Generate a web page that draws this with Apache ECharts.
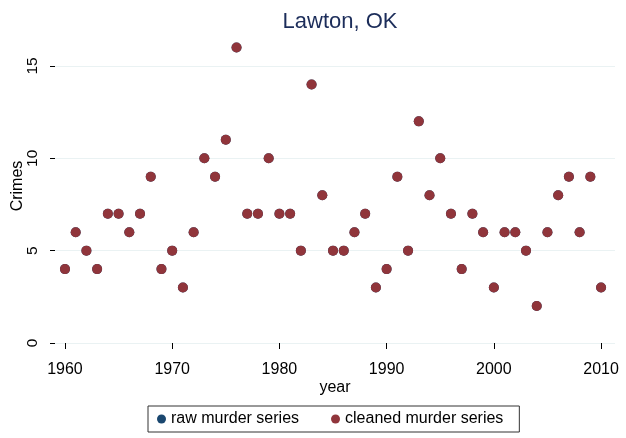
<!DOCTYPE html>
<html>
<head>
<meta charset="utf-8">
<script src="https://cdn.jsdelivr.net/npm/echarts@6/dist/echarts.min.js"></script>
<style>html,body{margin:0;padding:0;background:#fff}#c{width:626px;height:438px}</style>
</head>
<body>
<div id="c"></div>
<script>
var years = [1960,1961,1962,1963,1964,1965,1966,1967,1968,1969,1970,1971,1972,1973,1974,1975,1976,1977,1978,1979,1980,1981,1982,1983,1984,1985,1986,1987,1988,1989,1990,1991,1992,1993,1994,1995,1996,1997,1998,1999,2000,2001,2002,2003,2004,2005,2006,2007,2008,2009,2010];
var rawMurders = [4,6,5,4,7,7,6,7,9,4,5,3,6,10,9,11,16,7,7,10,7,7,5,14,8,5,5,6,7,3,4,9,5,12,8,10,7,4,7,6,3,6,6,5,2,6,8,9,6,9,3];
var cleanedMurders = [4,6,5,4,7,7,6,7,9,4,5,3,6,10,9,11,16,7,7,10,7,7,5,14,8,5,5,6,7,3,4,9,5,12,8,10,7,4,7,6,3,6,6,5,2,6,8,9,6,9,3];
var xTicks = [1960,1970,1980,1990,2000,2010];
var yTicks = [0,5,10,15];
var titleText = 'Lawton, OK';
var seriesNames = ['raw murder series','cleaned murder series'];

function pairs(xs, ys){ return xs.map(function(x,i){ return [x, ys[i]]; }); }

var font = 'Liberation Sans, Arial, Helvetica, sans-serif';
var chart = echarts.init(document.getElementById('c'), null, {renderer:'canvas'});
chart.setOption({
  animation:false,
  backgroundColor:'#fff',
  textStyle:{fontFamily:font},
  title:{text:titleText,left:335,textAlign:'center',top:6,textStyle:{fontFamily:font,fontSize:22,fontWeight:'normal',color:'#1c2d5a'}},
  grid:{left:55,right:11,top:29,bottom:95,containLabel:false,outerBoundsMode:'none'},
  xAxis:{type:'value',min:1959.07,max:2011.3,offset:9,
    name:'year',nameLocation:'middle',nameGap:28,nameMoveOverlap:false,nameTextStyle:{fontSize:16,color:'#000',fontFamily:font},
    axisLine:{show:false},
    axisTick:{show:true,length:6,customValues:xTicks,lineStyle:{color:'#000'}},
    axisLabel:{customValues:xTicks,fontSize:16,color:'#000',margin:10,fontFamily:font,formatter:function(v){return String(v);}},
    splitLine:{show:false}},
  yAxis:{type:'value',min:0,max:17,
    name:'Crimes',nameLocation:'middle',nameGap:29,nameMoveOverlap:false,nameTextStyle:{fontSize:16,color:'#000',fontFamily:font},
    axisLine:{show:false},
    axisTick:{show:true,length:5,customValues:yTicks,lineStyle:{color:'#000'}},
    axisLabel:{customValues:yTicks,rotate:90,fontSize:15.5,color:'#000',margin:14,fontFamily:font},
    splitLine:{show:true,lineStyle:{color:'#eaf2f3',width:1}}},
  legend:{left:148,top:406,orient:'horizontal',padding:[5,16,5,9],itemGap:32,
    borderColor:'#333',borderWidth:1,borderRadius:0,
    itemWidth:9,itemHeight:9,icon:'circle',
    textStyle:{fontSize:16,color:'#000',fontFamily:font},
    data:seriesNames},
  series:[
    {name:seriesNames[0],type:'scatter',data:pairs(years,rawMurders),symbolSize:10,itemStyle:{color:'#1a476f',opacity:1},clip:false},
    {name:seriesNames[1],type:'scatter',data:pairs(years,cleanedMurders),symbolSize:10,itemStyle:{color:'#90353b',opacity:1},clip:false}
  ]
});
</script>
</body>
</html>
